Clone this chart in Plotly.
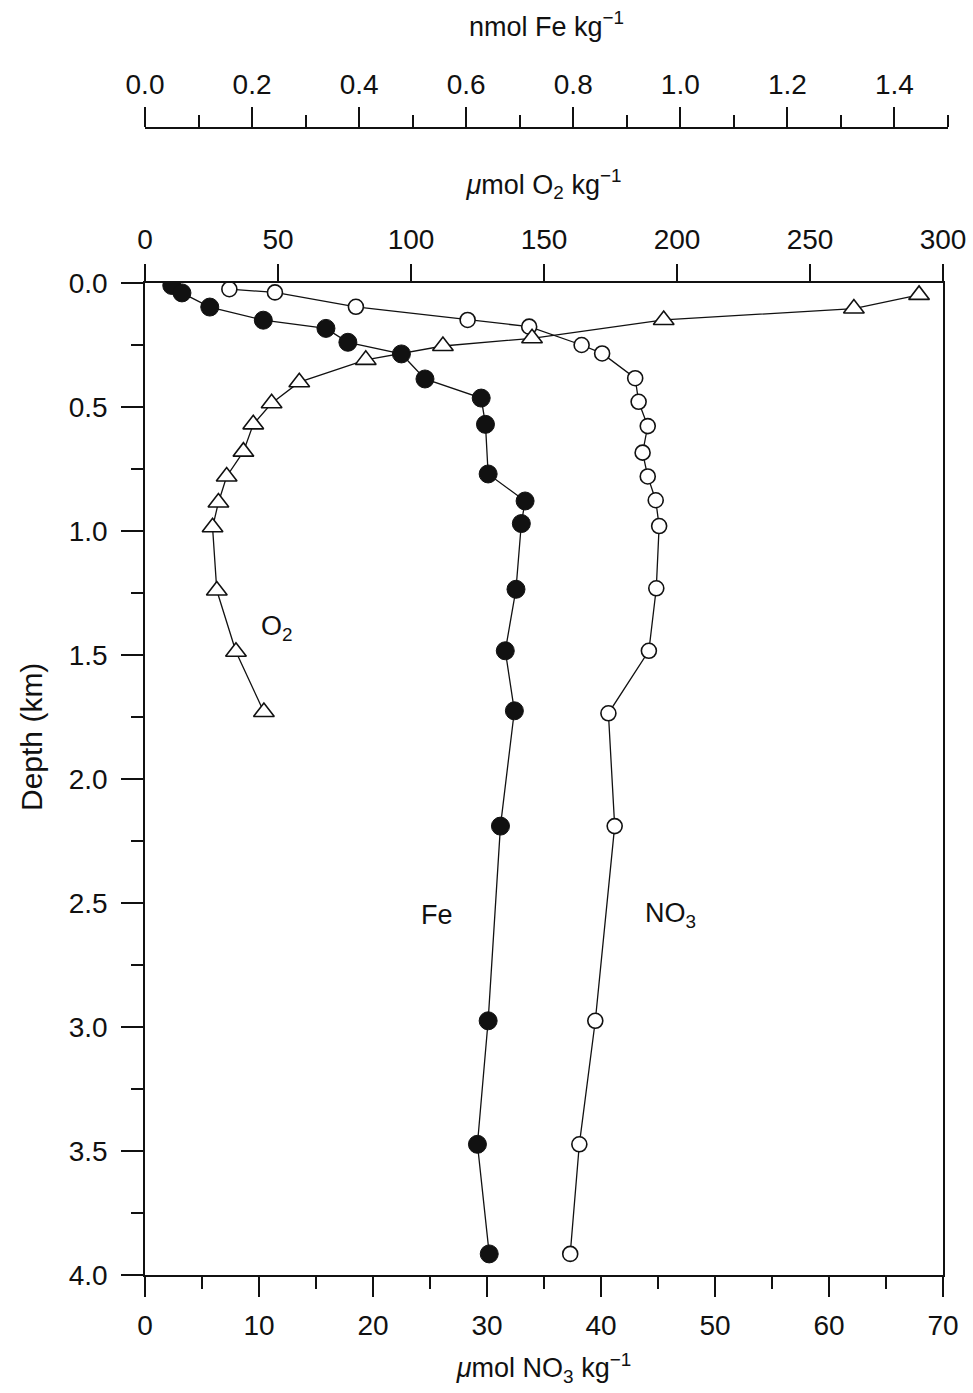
import plotly.graph_objects as go

# ---------------- data ----------------
fe_depth = [0.01, 0.04, 0.097, 0.15, 0.183, 0.239, 0.286, 0.387, 0.464, 0.57, 0.77,
            0.879, 0.97, 1.235, 1.483, 1.725, 2.19, 2.975, 3.473, 3.915]
fe_nmol = [0.050, 0.069, 0.121, 0.221, 0.338, 0.379, 0.479, 0.523, 0.628, 0.636, 0.641,
           0.710, 0.703, 0.693, 0.673, 0.690, 0.664, 0.641, 0.621, 0.643]

no3_depth = [0.025, 0.038, 0.096, 0.149, 0.176, 0.25, 0.284, 0.384, 0.479, 0.577, 0.684,
             0.78, 0.876, 0.98, 1.231, 1.483, 1.735, 2.19, 2.975, 3.473, 3.915]
no3_umol = [7.4, 11.4, 18.5, 28.3, 33.7, 38.3, 40.1, 43.0, 43.3, 44.1, 43.65,
            44.1, 44.8, 45.1, 44.85, 44.2, 40.65, 41.2, 39.5, 38.1, 37.3]

o2_depth = [0.048, 0.103, 0.149, 0.223, 0.254, 0.31, 0.40, 0.485, 0.57, 0.68, 0.78,
            0.885, 0.985, 1.24, 1.487, 1.73]
o2_umol = [291, 266.5, 195, 145.5, 112, 83, 58, 47.6, 40.7, 37.0, 30.7,
           27.6, 25.4, 27.0, 34.2, 44.7]

depth_ticks = [0.0, 0.5, 1.0, 1.5, 2.0, 2.5, 3.0, 3.5, 4.0]
fe_ticks = [0.0, 0.2, 0.4, 0.6, 0.8, 1.0, 1.2, 1.4]

# ---------------- figure ----------------
W, H = 973, 1393
ML, MR, MT, MB = 145, 25, 128, 118
PW = W - ML - MR          # paper plotting width (803)
PH = H - MT - MB          # paper plotting height (1147)
plot_right_frac = 798 / PW
plot_top_frac = 992 / PH

FONT = "Liberation Sans, Arial, sans-serif"
INK = "#111111"

fig = go.Figure()

fig.add_trace(go.Scatter(
    x=no3_umol, y=no3_depth, xaxis="x", yaxis="y", mode="lines+markers",
    line=dict(color=INK, width=1.3),
    marker=dict(symbol="circle", size=15, color="white", line=dict(color=INK, width=1.6)),
    name="NO3", showlegend=False))

fig.add_trace(go.Scatter(
    x=o2_umol, y=o2_depth, xaxis="x2", yaxis="y", mode="lines+markers",
    line=dict(color=INK, width=1.3),
    marker=dict(symbol="triangle-up", size=18, color="white", line=dict(color=INK, width=1.6)),
    name="O2", showlegend=False))

fig.add_trace(go.Scatter(
    x=fe_nmol, y=fe_depth, xaxis="x3", yaxis="y", mode="lines+markers",
    line=dict(color=INK, width=1.3),
    marker=dict(symbol="circle", size=18, color=INK, line=dict(color=INK, width=1)),
    name="Fe", showlegend=False))

tickfont = dict(family=FONT, size=28, color=INK)
titlefont = dict(family=FONT, size=27, color=INK)

fig.update_layout(
    width=W, height=H,
    margin=dict(l=ML, r=MR, t=MT, b=MB, pad=0, autoexpand=False),
    paper_bgcolor="white", plot_bgcolor="rgba(0,0,0,0)",
    font=dict(family=FONT, color=INK),
    xaxis=dict(
        domain=[0, plot_right_frac], anchor="y", side="bottom", automargin=False,
        range=[0, 70], dtick=10, tick0=0,
        ticks="outside", ticklen=20, tickwidth=1.5, tickcolor=INK,
        minor=dict(dtick=5, ticks="outside", ticklen=12, tickwidth=1.5, tickcolor=INK),
        showline=True, linewidth=1.5, linecolor=INK, showgrid=False, zeroline=False,
        tickfont=tickfont, ticklabelstandoff=5,
        title=dict(text="<i>μ</i>mol NO<sub>3</sub> kg<sup>−1</sup>", font=titlefont, standoff=18),
    ),
    xaxis2=dict(
        overlaying="x", anchor="y", side="top", automargin=False,
        range=[0, 300], dtick=50, tick0=0,
        ticks="outside", ticklen=17, tickwidth=1.5, tickcolor=INK,
        showline=True, linewidth=1.5, linecolor=INK, showgrid=False, zeroline=False,
        tickfont=tickfont, ticklabelstandoff=4,
        title=dict(text="<i>μ</i>mol O<sub>2</sub> kg<sup>−1</sup>", font=titlefont, standoff=22),
    ),
    xaxis3=dict(
        domain=[0, 1], anchor="free", position=1.0, side="top", automargin=False,
        range=[0, 1.5], tickvals=fe_ticks, ticktext=[f"{v:.1f}" for v in fe_ticks],
        ticks="outside", ticklen=20, tickwidth=1.5, tickcolor=INK,
        minor=dict(dtick=0.1, tick0=0, ticks="outside", ticklen=12, tickwidth=1.5, tickcolor=INK),
        showline=True, linewidth=1.5, linecolor=INK, showgrid=False, zeroline=False,
        tickfont=tickfont, ticklabelstandoff=2,
        title=dict(text="nmol Fe kg<sup>−1</sup>", font=titlefont, standoff=24),
    ),
    yaxis=dict(
        domain=[0, plot_top_frac], anchor="x", automargin=False,
        range=[4.0, 0.0], tickvals=depth_ticks, ticktext=[f"{v:.1f}" for v in depth_ticks],
        ticks="outside", ticklen=22, tickwidth=1.5, tickcolor=INK,
        minor=dict(dtick=0.25, tick0=0, ticks="outside", ticklen=12, tickwidth=1.5, tickcolor=INK),
        showline=True, mirror=True, linewidth=1.5, linecolor=INK, showgrid=False, zeroline=False,
        tickfont=tickfont, ticklabelstandoff=8,
    ),
)

# depth axis title (placed to match the reference)
fig.add_annotation(x=(31 - ML) / PW, y=(H - MB - 737) / PH, xref="paper", yref="paper",
                   xanchor="center", yanchor="middle",
                   text="Depth (km)", textangle=-90, showarrow=False,
                   font=dict(family=FONT, size=30, color=INK))

# series labels
labfont = dict(family=FONT, size=27, color=INK)
fig.add_annotation(x=11.6, y=1.39, xref="x", yref="y", text="O<sub>2</sub>",
                   showarrow=False, font=labfont)
fig.add_annotation(x=25.6, y=2.55, xref="x", yref="y", text="Fe",
                   showarrow=False, font=labfont)
fig.add_annotation(x=46.1, y=2.55, xref="x", yref="y", text="NO<sub>3</sub>",
                   showarrow=False, font=labfont)

fig.write_html("out.html")
